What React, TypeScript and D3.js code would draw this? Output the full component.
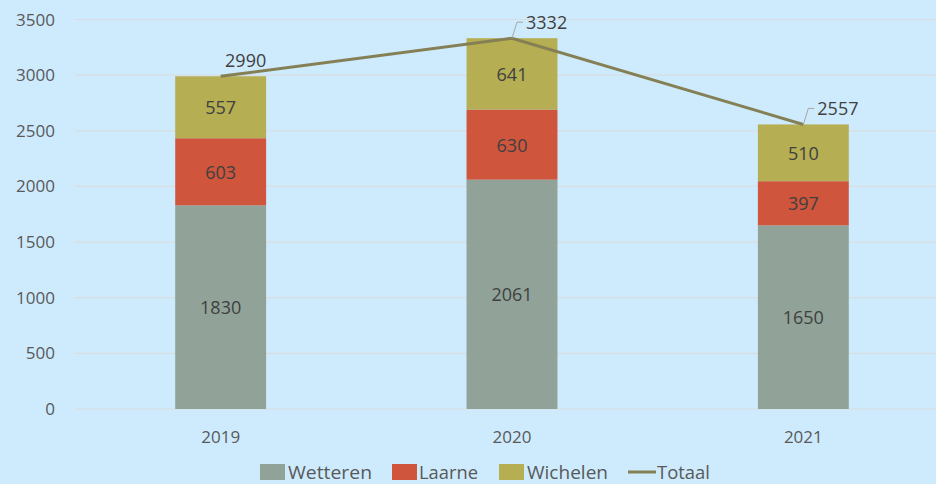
import React from 'react';
import * as d3 from 'd3';

const years = ['2019', '2020', '2021'];
const wetteren = [1830, 2061, 1650];
const laarne = [603, 630, 397];
const wichelen = [557, 641, 510];
const totaal = [2990, 3332, 2557];
const yTicks = [0, 500, 1000, 1500, 2000, 2500, 3000, 3500];

const seriesNames = ['Wetteren', 'Laarne', 'Wichelen'];
const colors = ['#91a398', '#cf553d', '#b5ae53'];
const lineColor = '#857f55';

const W = 936;
const H = 484;
const font = '"Open Sans", sans-serif';

export default function App() {
  const x = d3.scaleBand().domain(years).range([75, 949]).paddingInner(0.688).paddingOuter(0.344);
  const y = d3.scaleLinear().domain([0, 3500]).range([409, 19.5]);

  const rows = years.map((yr, i) => ({ year: yr, Wetteren: wetteren[i], Laarne: laarne[i], Wichelen: wichelen[i] }));
  const stacked = d3.stack<any>().keys(seriesNames)(rows);

  const cx = (yr: string) => (x(yr) as number) + x.bandwidth() / 2;
  const line = d3.line<number>().x((_, i) => cx(years[i])).y(d => y(d));

  const legend = [
    { name: 'Wetteren', sx: 260, tx: 288, len: 84, color: colors[0] },
    { name: 'Laarne', sx: 392, tx: 419, len: 59, color: colors[1] },
    { name: 'Wichelen', sx: 499, tx: 527, len: 81, color: colors[2] },
  ];

  return (
    <svg width={W} height={H} style={{ position: 'absolute', left: 0, top: 0 }}>
      <rect width={W} height={H} fill="#cdebfd" />
      {yTicks.map(t => (
        <g key={t}>
          <line x1={75} x2={W} y1={y(t)} y2={y(t)} stroke="#d9dde0" strokeWidth={1.2} />
          <text x={55} y={y(t) + 6} textAnchor="end" fontFamily={font} fontSize={17} fill="#595959">{t}</text>
        </g>
      ))}
      {stacked.map((s, si) => (
        <g key={s.key}>
          {s.map((d, i) => (
            <g key={i}>
              <rect x={x(years[i])} y={y(d[1])} width={x.bandwidth()} height={y(d[0]) - y(d[1])} fill={colors[si]} />
              <text x={cx(years[i])} y={(y(d[0]) + y(d[1])) / 2 + 7} textAnchor="middle" fontFamily={font} fontSize={18} fill="#404040">
                {d[1] - d[0]}
              </text>
            </g>
          ))}
        </g>
      ))}
      <path d={line(totaal) as string} fill="none" stroke={lineColor} strokeWidth={3} />
      {totaal.map((v, i) => {
        const px = cx(years[i]);
        const py = y(v);
        if (i === 0) {
          return (
            <text key={i} x={px + 25} y={py - 9} textAnchor="middle" fontFamily={font} fontSize={18} fill="#404040">{v}</text>
          );
        }
        return (
          <g key={i}>
            <polyline points={`${px},${py} ${px + 5},${py - 16} ${px + 11},${py - 16}`} fill="none" stroke="#a6a6a6" strokeWidth={1} />
            <text x={px + 14} y={py - 9} fontFamily={font} fontSize={18} fill="#404040">{v}</text>
          </g>
        );
      })}
      {years.map(yr => (
        <text key={yr} x={cx(yr)} y={443} textAnchor="middle" fontFamily={font} fontSize={17} fill="#595959">{yr}</text>
      ))}
      {legend.map(l => (
        <g key={l.name}>
          <rect x={l.sx} y={464} width={25} height={16} fill={l.color} />
          <text x={l.tx} y={479} fontFamily={font} fontSize={18} fill="#595959" textLength={l.len} lengthAdjust="spacingAndGlyphs">{l.name}</text>
        </g>
      ))}
      <line x1={628} x2={656} y1={472} y2={472} stroke={lineColor} strokeWidth={3} />
      <text x={657} y={479} fontFamily={font} fontSize={18} fill="#595959" textLength={53} lengthAdjust="spacingAndGlyphs">Totaal</text>
    </svg>
  );
}
